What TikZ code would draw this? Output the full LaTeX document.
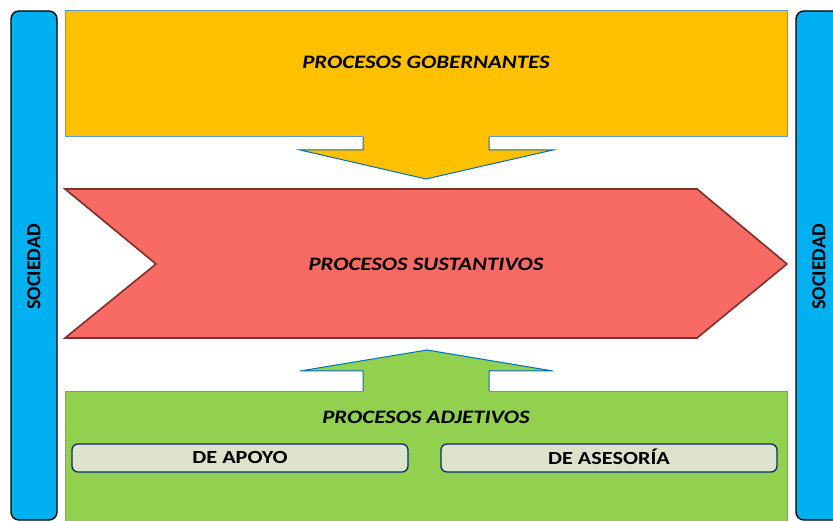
\documentclass[tikz,border=0pt]{standalone}
\usepackage{graphicx}
\usepackage{fontspec}
\setmainfont{Carlito}
\definecolor{barblue}{HTML}{00B0F0}
\definecolor{gold}{HTML}{FFC000}
\definecolor{salmon}{HTML}{F86B64}
\definecolor{darkred}{HTML}{7F2E2A}
\definecolor{leaf}{HTML}{92D050}
\definecolor{edgeblue}{HTML}{0070C0}
\definecolor{lightedge}{HTML}{5B9BD5}
\definecolor{pale}{HTML}{DDE2CB}
\definecolor{navy}{HTML}{0B2A6B}
\newcommand{\wideText}[1]{\scalebox{1.2}[1]{#1}}
\tikzset{
  sidebar/.style={fill=barblue,draw=black,line width=1.4pt,rounded corners=8pt},
  title/.style={font=\fontsize{19}{21}\selectfont\bfseries\itshape,inner sep=0pt},
  sidetext/.style={font=\fontsize{20}{22}\selectfont\bfseries,rotate=90,inner sep=0pt},
  subbox/.style={fill=pale,draw=navy,line width=1.3pt,rounded corners=6pt},
  subtext/.style={font=\fontsize{18.5}{20}\selectfont\bfseries,inner sep=0pt}
}
\begin{document}
\begin{tikzpicture}[x=1pt,y=-1pt]
\useasboundingbox (0,0) rectangle (833,521);
% side bars
\draw[sidebar] (11,11) rectangle (57,520);
\draw[sidebar] (796,11) rectangle (842,520);
\node[sidetext] (socl) at (34,267) {SOCIEDAD};
\node[sidetext] (socr) at (819,267) {SOCIEDAD};
% governing
\fill[gold] (65,11) -- (787,11) -- (787,137) -- (489,137) -- (489,150) -- (553,150) -- (426,179) -- (300,150) -- (363,150) -- (363,137) -- (65,137) -- cycle;
\draw[lightedge,line width=1pt] (363,137) -- (65,137) -- (65,11) -- (787,11) -- (787,137) -- (489,137);
\draw[edgeblue,line width=1pt,line join=miter] (363,137) -- (363,150) -- (300,150) -- (426,179) -- (553,150) -- (489,150) -- (489,137);
\node[title] (gob) at (426,62) {\wideText{PROCESOS GOBERNANTES}};
% substantive
\draw[fill=salmon,draw=darkred,line width=1.6pt] (65,189) -- (697,189) -- (787,264) -- (697,338) -- (65,338) -- (156,264) -- cycle;
\node[title] (sus) at (426,264) {\wideText{PROCESOS SUSTANTIVOS}};
% adjective
\fill[leaf] (65,526) -- (65,391) -- (363,391) -- (363,371) -- (300,371) -- (427,350) -- (553,371) -- (489,371) -- (489,391) -- (787,391) -- (787,526) -- cycle;
\draw[lightedge,line width=1pt] (65,526) -- (65,391) -- (363,391);
\draw[lightedge,line width=1pt] (489,391) -- (787,391) -- (787,526);
\draw[edgeblue,line width=1pt,line join=miter] (363,391) -- (363,371) -- (300,371) -- (427,350) -- (553,371) -- (489,371) -- (489,391);
\node[title] (adj) at (426,417) {\wideText{PROCESOS ADJETIVOS}};
\draw[subbox] (72,444) rectangle (408,472);
\node[subtext] (apoyo) at (240,457) {\wideText{DE APOYO}};
\draw[subbox] (441,444) rectangle (777,472);
\node[subtext] (asesoria) at (609,457) {\wideText{DE ASESORÍA}};
\end{tikzpicture}
\end{document}
